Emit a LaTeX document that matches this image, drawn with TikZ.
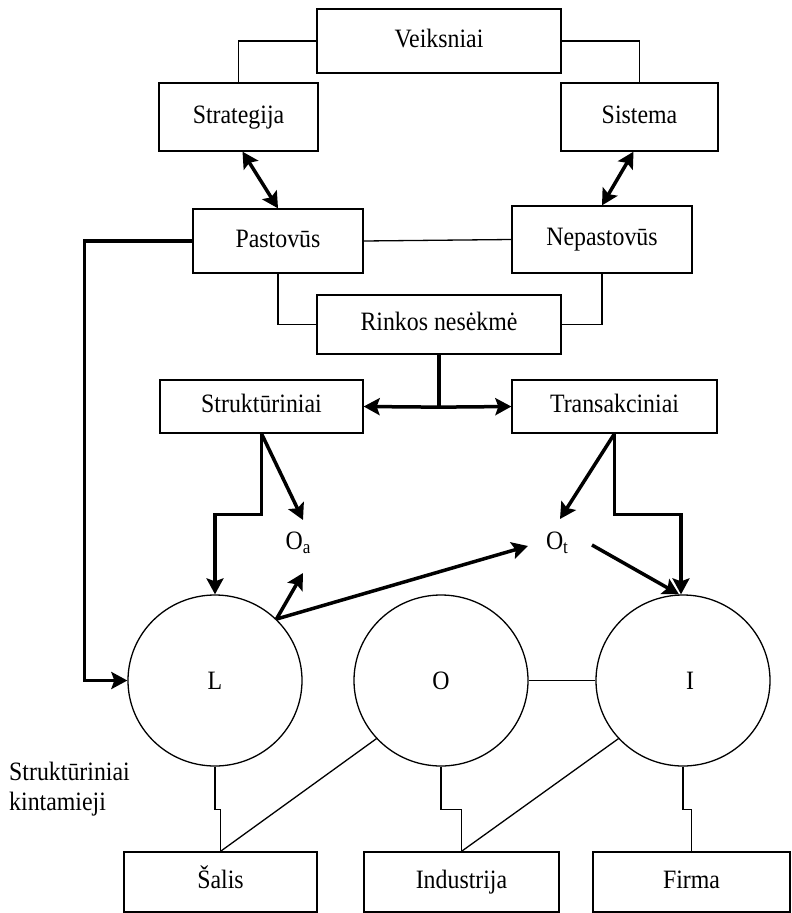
\documentclass[tikz,border=0pt]{standalone}
\usepackage{fontspec}
\setmainfont{Liberation Serif}[FakeStretch=0.9]
\usetikzlibrary{arrows.meta,shapes.geometric}
\begin{document}
\begin{tikzpicture}[x=1pt,y=-1pt,
  every node/.style={font=\fontsize{26.5}{30.5}\selectfont, inner sep=0pt},
  box/.style={draw, line width=1.3pt, minimum width=#1, text height=17pt, text depth=5pt},
  thin/.style={line width=1.3pt},
  heavy/.style={line width=3.5pt},
  tip/.style={-{Stealth[length=16pt,width=17pt,inset=3pt]}},
  twotip/.style={{Stealth[length=16pt,width=17pt,inset=3pt]}-{Stealth[length=16pt,width=17pt,inset=3pt]}},
  var/.style={draw, line width=1.3pt, ellipse, minimum width=174pt, minimum height=171pt}]
\useasboundingbox (0,0) rectangle (792,913);

% boxes
\node[box=244pt, minimum height=64pt] (vei) at (439,41) {Veiksniai};
\node[box=159pt, minimum height=68pt] (str) at (238.5,117) {Strategija};
\node[box=157pt, minimum height=68pt] (sis) at (639.5,117) {Sistema};
\node[box=170pt, minimum height=64pt] (pas) at (278,241) {Pastovūs};
\node[box=180pt, minimum height=67pt] (nep) at (602,239.5) {Nepastovūs};
\node[box=244pt, minimum height=59pt] (rin) at (439,324.5) {Rinkos nesėkmė};
\node[box=203pt, minimum height=53pt] (stru) at (261.5,406.5) {Struktūriniai};
\node[box=205pt, minimum height=53pt] (tra) at (614.5,406.5) {Transakciniai};
\node[box=193pt, minimum height=60pt] (sal) at (220.5,882) {Šalis};
\node[box=195pt, minimum height=60pt] (ind) at (461.5,882) {Industrija};
\node[box=197pt, minimum height=60pt] (fir) at (691.5,882) {Firma};

% the three variables
\node[var] (L) at (215,680.5) {L};
\node[var] (O) at (441,680.5) {O};
\node[var] (I) at (683,680.5) {\hspace*{14pt}I};

% outcomes
\node (Oa) at (298,543) {O\raisebox{-0.35ex}{\fontsize{19}{21}\selectfont a}};
\node (Ot) at (557,543) {O\raisebox{-0.35ex}{\fontsize{19}{21}\selectfont t}};

\node[align=left, anchor=west] (kin) at (9,789) {Struktūriniai\\kintamieji};

% thin links
\draw[thin] (vei.west) -| (str.north);
\draw[thin] (vei.east) -| (sis.north);
\draw[thin] (pas.east) -- (nep.west);
\draw[thin] (pas.south) |- (rin.west);
\draw[thin] (nep.south) |- (rin.east);
\draw[thin] (O.east) -- (I.west);
\draw[thin] (L.south) -- ++(0,43) -| (sal.north);
\draw[thin] (O.south) -- ++(0,43) -| (ind.north);
\draw[thin] (I.south) -- ++(0,43) -| (fir.north);
\draw[thin] (O.222) -- (sal.north);
\draw[thin] (I.222) -- (ind.north);

% heavy arrows
\draw[heavy,twotip] ([xshift=4pt]str.south) -- (pas.north);
\draw[heavy,twotip] ([xshift=-6pt]sis.south) -- (nep.north);
\draw[heavy] (rin.south) -- ++(0,52.5) coordinate (fork);
\draw[heavy,tip] (fork) -- (stru.east);
\draw[heavy,tip] (fork) -- (tra.west);
\draw[heavy,tip] (pas.west) -- ++(-108,0) |- (L.west);
\draw[heavy,tip] (stru.south) -- ++(0,81) -| (L.north);
\draw[heavy,tip] (stru.south) -- ([shift={(5,-23)}]Oa.center);
\draw[heavy,tip] (tra.south) -- ([shift={(3,-24)}]Ot.center);
\draw[heavy,tip] (tra.south) -- ++(0,81) -| ([xshift=-2pt]I.north);
\draw[heavy,tip] ([shift={(35,2)}]Ot.center) -- ([xshift=-4pt]I.north);
\draw[heavy,tip] (L.45) -- ([shift={(5,30)}]Oa.center);
\draw[heavy,tip] (L.45) -- ([shift={(-29,3)}]Ot.center);
\end{tikzpicture}
\end{document}
